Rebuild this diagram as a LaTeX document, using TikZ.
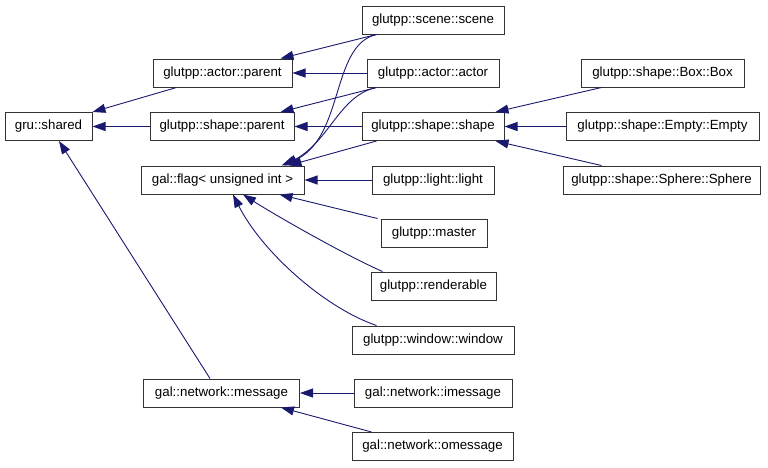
\documentclass[tikz,border=0pt]{standalone}
\usepackage{fontspec}
\setmainfont{Liberation Sans}
\usetikzlibrary{arrows.meta}
\definecolor{midnight}{HTML}{191970}
\tikzset{
  cls/.style={draw=black!80, line width=1pt, fill=white, minimum height=28pt, inner sep=0pt,
    font=\fontsize{13.3}{16}\selectfont, anchor=center},
  edge/.style={draw=midnight, line width=0.9pt, -{Triangle[length=13pt,width=9pt]}}
}
\begin{document}
\begin{tikzpicture}[x=1pt,y=-1pt]
\useasboundingbox (0,0) rectangle (768,467);
% rank 1
\node[cls, minimum width=87pt] (shared) at (48.5,126.5) {gru::shared};
% rank 2
\node[cls, minimum width=139pt] (actorparent) at (222.5,73) {glutpp::actor::parent};
\node[cls, minimum width=144pt] (shapeparent) at (222,126.5) {glutpp::shape::parent};
\node[cls, minimum width=163pt] (flag) at (222.5,180) {gal::flag< unsigned int >};
\node[cls, minimum width=156pt] (message) at (221.5,393) {gal::network::message};
% rank 3
\node[cls, minimum width=142pt] (scene) at (433,20) {glutpp::scene::scene};
\node[cls, minimum width=132pt] (actor) at (433,73) {glutpp::actor::actor};
\node[cls, minimum width=142pt] (shape) at (433,126.5) {glutpp::shape::shape};
\node[cls, minimum width=122pt] (light) at (433,180) {glutpp::light::light};
\node[cls, minimum width=106pt] (master) at (434,233) {glutpp::master};
\node[cls, minimum width=125pt] (renderable) at (433.5,286) {glutpp::renderable};
\node[cls, minimum width=162pt] (window) at (433,340) {glutpp::window::window};
\node[cls, minimum width=158pt] (imessage) at (433,393) {gal::network::imessage};
\node[cls, minimum width=161pt] (omessage) at (432.5,446.5) {gal::network::omessage};
% rank 4
\node[cls, minimum width=163pt] (box) at (662.5,73) {glutpp::shape::Box::Box};
\node[cls, minimum width=193pt] (empty) at (662.5,126.5) {glutpp::shape::Empty::Empty};
\node[cls, minimum width=197pt] (sphere) at (661.5,180) {glutpp::shape::Sphere::Sphere};

% edges to gru::shared
\draw[edge] ([xshift=24pt]actorparent.south west) -- (shared.north east);
\draw[edge] (shapeparent.west) -- (shared.east);
\draw[edge] ([xshift=-11.5pt]message.north) -- ([xshift=10.5pt]shared.south);
% edges to actor::parent / shape::parent
\draw[edge] ([xshift=15pt]scene.south west) -- ([xshift=-12pt]actorparent.north east);
\draw[edge] (actor.west) -- (actorparent.east);
\draw[edge] ([xshift=10pt]actor.south west) -- ([xshift=-14pt]shapeparent.north east);
\draw[edge] (shape.west) -- (shapeparent.east);
% edges to gal::flag
\draw[edge] ([xshift=15pt]scene.south west) .. controls (330,45) and (345,140) .. ([xshift=-23pt]flag.north east);
\draw[edge] ([xshift=10pt]actor.south west) .. controls (340,95) and (330,140) .. ([xshift=-20pt]flag.north east);
\draw[edge] ([xshift=15pt]shape.south west) -- ([xshift=-16pt]flag.north east);
\draw[edge] (light.west) -- (flag.east);
\draw[edge] ([xshift=-3pt]master.north west) -- ([xshift=-25pt]flag.south east);
\draw[edge] ([xshift=12pt]renderable.north west) .. controls (345,255) and (275,215) .. ([xshift=20.5pt]flag.south);
\draw[edge] ([xshift=25pt]window.north west) .. controls (325,308) and (262,252) .. ([xshift=10.5pt]flag.south);
% edges to shape::shape
\draw[edge] ([xshift=21pt]box.south west) -- ([xshift=-9pt]shape.north east);
\draw[edge] (empty.west) -- (shape.east);
\draw[edge] ([xshift=39pt]sphere.north west) -- ([xshift=-9pt]shape.south east);
% edges to gal::network::message
\draw[edge] (imessage.west) -- (message.east);
\draw[edge] ([xshift=20pt]omessage.north west) -- ([xshift=-19pt]message.south east);
\end{tikzpicture}
\end{document}
